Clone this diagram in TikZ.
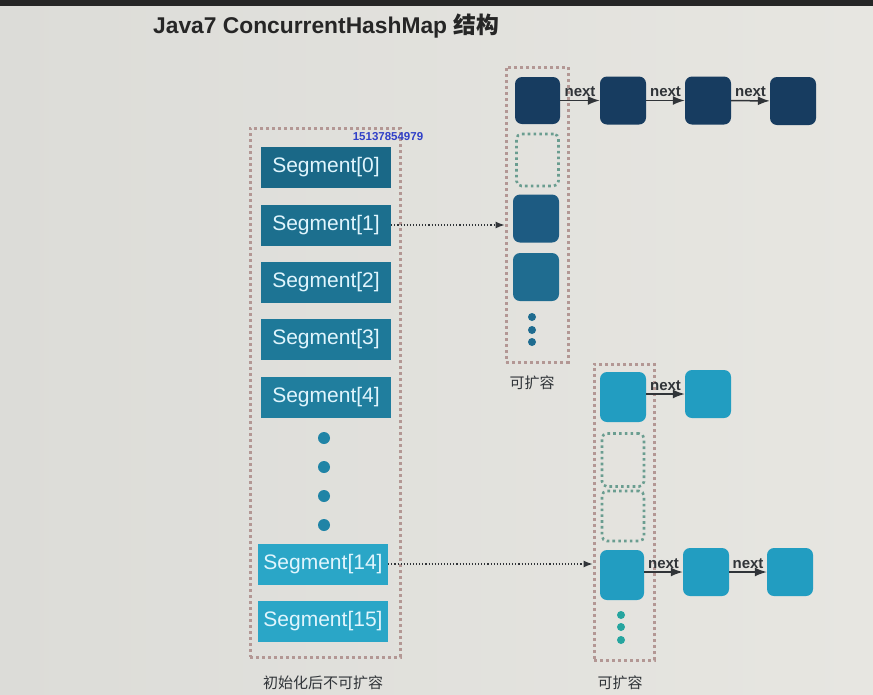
\documentclass[tikz,border=0pt]{standalone}
\usepackage{fontspec}
\setmainfont{Liberation Sans}
\newfontfamily\cjk{Noto Sans CJK SC}
\usetikzlibrary{arrows.meta}

\definecolor{paper}{HTML}{E7E6E1}
\definecolor{paperl}{HTML}{DCDCD8}
\definecolor{framered}{HTML}{B39794}
\definecolor{holegreen}{HTML}{6A9D90}
\definecolor{navy}{HTML}{173C60}
\definecolor{linkgray}{HTML}{303438}
\definecolor{marknum}{HTML}{3040C8}
\definecolor{segA}{HTML}{1A6887}
\definecolor{segB}{HTML}{1C6F8E}
\definecolor{segC}{HTML}{1D7494}
\definecolor{segD}{HTML}{1E7999}
\definecolor{segE}{HTML}{207E9E}
\definecolor{segF}{HTML}{2AA6C7}
\definecolor{beadA}{HTML}{2084A6}
\definecolor{cellA}{HTML}{1D5B82}
\definecolor{cellB}{HTML}{1F6C90}
\definecolor{cellC}{HTML}{229DC1}
\definecolor{beadB}{HTML}{26A59F}

\begin{document}
\begin{tikzpicture}
			[x=1pt,y=-1pt,
			seg/.style ={fill=#1, text=white!88!cyan, minimum width=130pt, minimum height=41pt, inner sep=0pt, font=\fontsize{21}{21}\selectfont},
			cell/.style ={fill=#1, rounded corners=7pt, minimum width=46pt, minimum height=48pt, inner sep=0pt},
			hole/.style ={draw=holegreen, line width=2.6pt, dash pattern=on 2.6pt off 3.2pt, rounded corners=5pt, minimum width=42pt, inner sep=0pt},
			frame/.style ={draw=framered, line width=3pt, dash pattern=on 3pt off 3pt, inner sep=0pt},
			bead/.style ={circle, fill=#1, inner sep=0pt},
			link/.style ={draw=linkgray, line width=1.5pt, -{Latex[length=12pt,width=9pt]}},
			ptr/.style ={draw=linkgray, line width=1.1pt, dotted, -{Latex[length=9pt,width=7pt]}},
			lbl/.style ={font=\fontsize{15}{15}\selectfont\bfseries, text=linkgray, inner sep=1pt}]
			% background
			\shade[left color=paperl, right color=paper] (0,0) rectangle (873,694);
			\fill[black!85] (0,0) rectangle (873,6);
			\node[anchor=base west, inner sep=0pt, text=black!85, font=\fontsize{22.8}{23}\selectfont\bfseries] (title) at (153,33) {Java7 ConcurrentHashMap {\cjk 结构}};
			% segment array
			\begin{scope}
				\node[frame, minimum width=150pt, minimum height=529pt] (segs) at (325,392.5) {};
				\node[seg=segA] (s0) at (326,167.5) {Segment[0]};
				\node[seg=segB] (s1) at (326,225) {Segment[1]};
				\node[seg=segC] (s2) at (326,282.5) {Segment[2]};
				\node[seg=segD] (s3) at (326,339.5) {Segment[3]};
				\node[seg=segE] (s4) at (326,397) {Segment[4]};
				\node[bead=beadA, minimum size=12pt] (d1) at (324,438) {};
				\node[bead=beadA, minimum size=12pt] (d2) at (324,467) {};
				\node[bead=beadA, minimum size=12pt] (d3) at (324,496) {};
				\node[bead=beadA, minimum size=12pt] (d4) at (324,525) {};
				\node[seg=segF] (s14) at (323,564) {Segment[14]};
				\node[seg=segF] (s15) at (323,621) {Segment[15]};
				\node[text=marknum, inner sep=0pt, font=\fontsize{11.5}{12}\selectfont\bfseries] (mark) at (388,137) {15137854979};
				\node[lbl, font=\cjk\fontsize{15}{15}\selectfont] (fixed) at (323,683) {初始化后不可扩容};
			\end{scope}
			% table of Segment[1]
			\begin{scope}
				\node[frame, minimum width=62pt, minimum height=295pt] (tab1) at (537,214.5) {};
				\node[cell=navy, minimum width=45pt, minimum height=47pt] (a0) at (537.5,100.5) {};
				\node[hole, minimum height=52pt] (a1) at (537.5,160) {};
				\node[cell=cellA] (a2) at (536,218.5) {};
				\node[cell=cellB] (a3) at (536,277) {};
				\node[bead=cellB, minimum size=8pt] (e1) at (532,317) {};
				\node[bead=cellB, minimum size=8pt] (e2) at (532,330) {};
				\node[bead=cellB, minimum size=8pt] (e3) at (532,342) {};
				\node[cell=navy] (t1) at (623,100.5) {};
				\node[cell=navy] (t2) at (708,100.5) {};
				\node[cell=navy] (t3) at (793,101) {};
				\draw[link] (a0) -- (t1) node[lbl, midway, above=2pt] {next};
				\draw[link] (t1) -- (t2) node[lbl, midway, above=2pt] {next};
				\draw[link] (t2) -- (t3) node[lbl, midway, above=2pt] {next};
				\node[lbl, font=\cjk\fontsize{15}{15}\selectfont] (grow1) at (532,383) {可扩容};
			\end{scope}
			% table of Segment[14]
			\begin{scope}
				\node[frame, minimum width=60pt, minimum height=296pt] (tab2) at (624,512) {};
				\node[cell=cellC, minimum height=50pt] (b0) at (623,397) {};
				\node[hole, minimum height=53pt] (b1) at (623,460) {};
				\node[hole, minimum height=50pt] (b2) at (623,516) {};
				\node[cell=cellC, minimum width=44pt, minimum height=50pt] (b3) at (622,575) {};
				\node[bead=beadB, minimum size=8pt] (f1) at (621,615) {};
				\node[bead=beadB, minimum size=8pt] (f2) at (621,627) {};
				\node[bead=beadB, minimum size=8pt] (f3) at (621,640) {};
				\node[cell=cellC] (u1) at (708,394) {};
				\node[cell=cellC] (v1) at (706,572) {};
				\node[cell=cellC] (v2) at (790,572) {};
				\draw[link] (b0.east |- u1) -- (u1) node[lbl, midway, above=2pt] {next};
				\draw[link] (b3.east |- v1) -- (v1) node[lbl, midway, above=2pt] {next};
				\draw[link] (v1) -- (v2) node[lbl, midway, above=2pt] {next};
				\node[lbl, font=\cjk\fontsize{15}{15}\selectfont] (grow2) at (620,683) {可扩容};
			\end{scope}
			% pointers from segments
			\draw[ptr] (s1.east) -- (s1.east -| tab1.west);
			\draw[ptr] (s14.east) -- (s14.east -| tab2.west);
		\end{tikzpicture}
\end{document}
